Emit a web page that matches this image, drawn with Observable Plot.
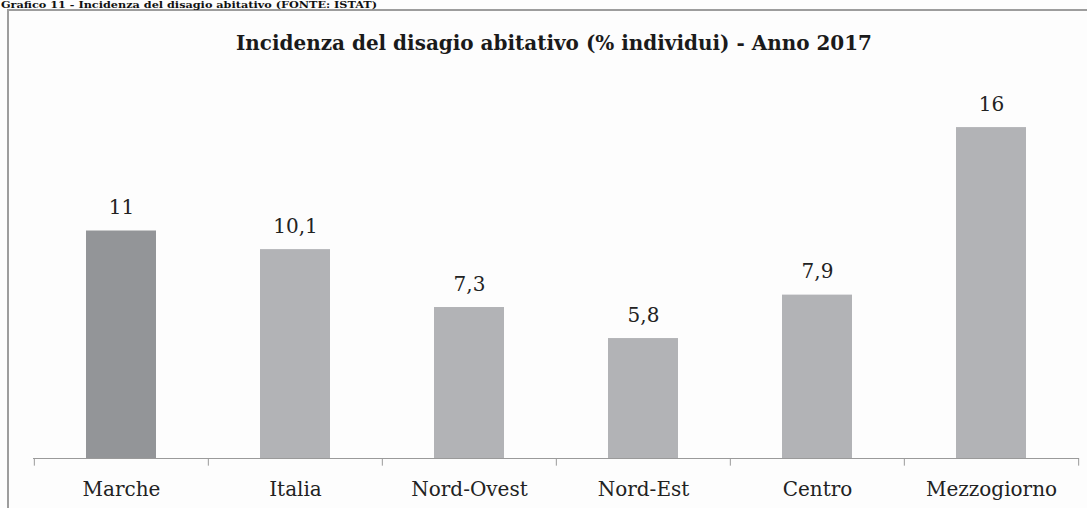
<!DOCTYPE html>
<html><head><meta charset="utf-8">
<script src="https://cdn.jsdelivr.net/npm/d3@7"></script>
<script src="https://cdn.jsdelivr.net/npm/@observablehq/plot@0.6"></script>
<style>
body{margin:0;background:#fdfdfd;width:1087px;height:508px;overflow:hidden;position:relative;font-family:"DejaVu Serif",serif;}
#frame{position:absolute;left:7px;top:9px;width:1200px;height:700px;border:2px solid #9d9d9d;box-sizing:border-box;}
#chart{position:absolute;left:0;top:0;}
#over{position:absolute;left:0;top:0;}
</style>
</head><body>
<div id="frame"></div>
<div id="chart"></div>
<svg id="over" width="1087" height="70">
  <text x="1" y="8" font-family="DejaVu Serif" font-weight="bold" font-size="10" fill="#111" textLength="376" lengthAdjust="spacingAndGlyphs">Grafico 11 - Incidenza del disagio abitativo (FONTE: ISTAT)</text>
  <text x="554" y="50" text-anchor="middle" font-family="DejaVu Serif" font-weight="bold" font-size="20" fill="#1a1a1a" textLength="636" lengthAdjust="spacingAndGlyphs">Incidenza del disagio abitativo (% individui) - Anno 2017</text>
</svg>
<script>
const categories = ["Marche", "Italia", "Nord-Ovest", "Nord-Est", "Centro", "Mezzogiorno"];
const values = [11, 10.1, 7.3, 5.8, 7.9, 16];
const highlight = "Marche";

const data = categories.map((c, i) => ({category: c, value: values[i]}));
const W = 1087, mL = 33, mR = 8;
const step = (W - mL - mR) / categories.length;
const fmt = v => String(v).replace(".", ",");

const chart = Plot.plot({
  width: W, height: 508,
  marginLeft: mL, marginRight: mR, marginTop: 3, marginBottom: 50,
  x: {domain: categories, paddingInner: 0.6, paddingOuter: 0.3, axis: null},
  y: {domain: [0, 22], axis: null},
  style: {background: "transparent", fontFamily: "DejaVu Serif", color: "#222"},
  marks: [
    Plot.barY(data, {x: "category", y: "value", fill: d => d.category === highlight ? "#939598" : "#b2b3b6"}),
    Plot.ruleY([0], {stroke: "#9a9a9a", strokeWidth: 1}),
    Plot.ruleX(categories, {x: d => d, dx: -step / 2, y1: 0, y2: -0.37, stroke: "#9a9a9a"}),
    Plot.ruleX([categories[categories.length - 1]], {x: d => d, dx: step / 2, y1: 0, y2: -0.37, stroke: "#9a9a9a"}),
    Plot.text(data, {x: "category", y: "value", text: d => fmt(d.value), lineAnchor: "bottom", dy: -17, fontSize: 20, fill: "#222"}),
    Plot.text(categories, {x: d => d, frameAnchor: "bottom", lineAnchor: "bottom", dy: 37, fontSize: 20, fill: "#222"})
  ]
});
document.getElementById("chart").appendChild(chart);
</script>
</body></html>
